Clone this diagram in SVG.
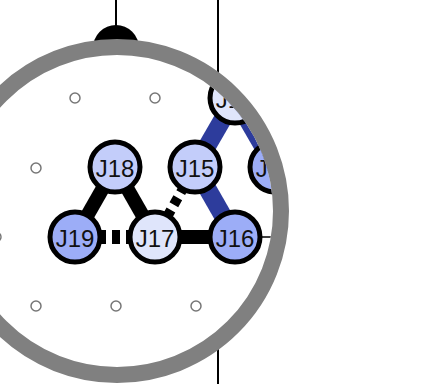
<svg xmlns="http://www.w3.org/2000/svg" width="438" height="384" viewBox="0 0 438 384">
<style>
.node circle{stroke:#000;stroke-width:5}
.node text{font-family:"Liberation Sans",Arial,sans-serif;font-size:24px;fill:#111;text-anchor:middle;dominant-baseline:central}
.dot{fill:#fff;stroke:#777;stroke-width:1.5}
.blk{stroke:#000;fill:none}
.blue{stroke:#2d3c9c;stroke-width:18;fill:none}
</style>
<defs>
<clipPath id="lensclip"><circle cx="117" cy="211" r="156"/></clipPath>
</defs>
<rect width="438" height="384" fill="#fff"/>
<g id="outside">
<line x1="218" y1="0" x2="218" y2="384" stroke="#000" stroke-width="2"/>
<line x1="116" y1="0" x2="116" y2="30" stroke="#000" stroke-width="2"/>
<circle cx="116" cy="48" r="23" fill="#000"/>
</g>
<circle cx="117" cy="211" r="160" fill="#fff"/>
<g clip-path="url(#lensclip)">
<g id="grid">
<circle class="dot" cx="75" cy="98" r="5"/>
<circle class="dot" cx="155" cy="98" r="5"/>
<circle class="dot" cx="36" cy="168" r="5"/>
<circle class="dot" cx="-4" cy="237" r="5"/>
<circle class="dot" cx="36" cy="306" r="5"/>
<circle class="dot" cx="116" cy="306" r="5"/>
<circle class="dot" cx="196" cy="306" r="5"/>
</g>
<g id="connectors">
<line class="blue" x1="235" y1="98" x2="195" y2="167"/>
<line class="blue" x1="235" y1="98" x2="275" y2="167"/>
<line class="blue" x1="195" y1="167" x2="235" y2="237"/>
<line class="blk" stroke-width="14" x1="115" y1="167" x2="75" y2="237"/>
<line class="blk" stroke-width="14" x1="115" y1="167" x2="155" y2="237"/>
<line class="blk" stroke-width="14" x1="155" y1="237" x2="235" y2="237"/>
<line class="blk" stroke-width="14" stroke-dasharray="8 6" x1="98" y1="237" x2="135" y2="237"/>
<line class="blk" stroke-width="10" stroke-dasharray="8 6" x1="167" y1="217" x2="185" y2="185"/>
<line class="blk" stroke-width="1.5" x1="255" y1="237" x2="300" y2="237"/>
</g>
<g id="J14" class="node"><circle cx="235" cy="98" r="25" fill="#dfe5fb"/><text x="235" y="99">J14</text></g>
<g id="J13" class="node"><circle cx="275" cy="167" r="25" fill="#9cadf7"/><text x="275" y="168">J13</text></g>
<g id="J18" class="node"><circle cx="115" cy="167" r="25" fill="#c3cdfa"/><text x="115" y="168">J18</text></g>
<g id="J15" class="node"><circle cx="195" cy="167" r="25" fill="#c3cdfa"/><text x="195" y="168">J15</text></g>
<g id="J19" class="node"><circle cx="75" cy="237" r="25" fill="#9cadf7"/><text x="75" y="238">J19</text></g>
<g id="J17" class="node"><circle cx="155" cy="237" r="25" fill="#dfe5fb"/><text x="155" y="238">J17</text></g>
<g id="J16" class="node"><circle cx="235" cy="237" r="25" fill="#9cadf7"/><text x="235" y="238">J16</text></g>
</g>
<circle id="lens" cx="117" cy="211" r="164" fill="none" stroke="#808080" stroke-width="16"/>
</svg>
